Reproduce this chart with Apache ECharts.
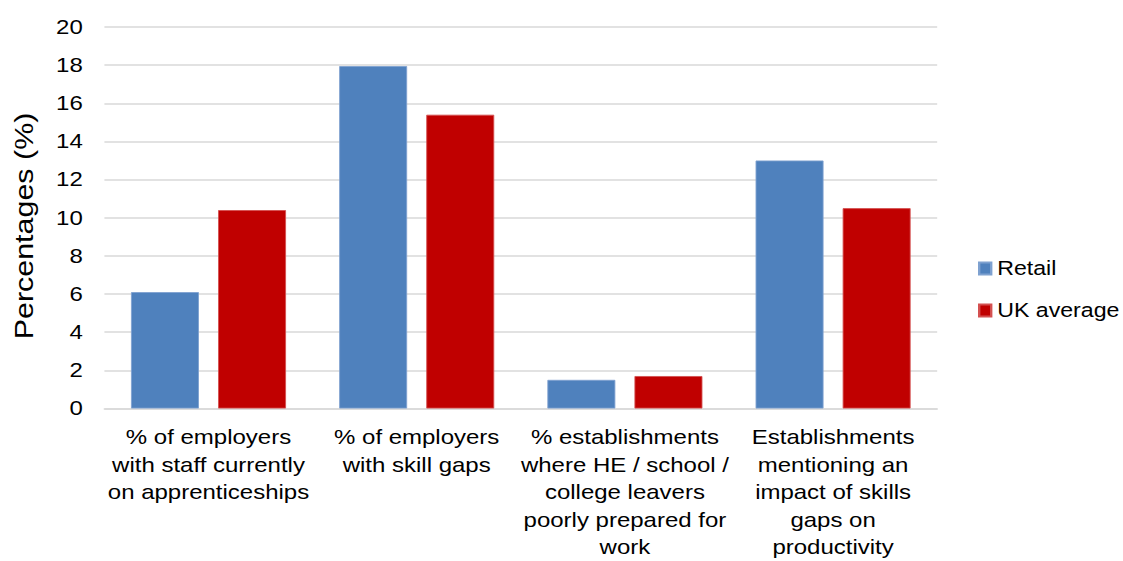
<!DOCTYPE html>
<html>
<head>
<meta charset="utf-8">
<script src="https://cdn.jsdelivr.net/npm/echarts@6/dist/echarts.min.js"></script>
<style>
  html, body { margin: 0; padding: 0; background: #fff; overflow: hidden; }
  /* the chart is laid out narrower and widened to fill the page */
  #chart { width: 936px; height: 561px; transform: scaleX(1.2); transform-origin: 0 0; }
</style>
</head>
<body>
<div id="chart"></div>
<script>
// Skills indicators: retail sector vs UK average
const categories = [
  '% of employers\nwith staff currently\non apprenticeships',
  '% of employers\nwith skill gaps',
  '% establishments\nwhere HE / school /\ncollege leavers\npoorly prepared for\nwork',
  'Establishments\nmentioning an\nimpact of skills\ngaps on\nproductivity'
];
const retail = [6.1, 17.95, 1.5, 13.0];
const ukAverage = [10.4, 15.4, 1.7, 10.5];
const yTicks = { min: 0, max: 20, interval: 2 };
const yTitle = 'Percentages (%)';

const font = 'Liberation Sans, Arial, sans-serif';
const chart = echarts.init(document.getElementById('chart'), null, { renderer: 'svg' });

chart.setOption({
  animation: false,
  textStyle: { fontFamily: font },
  grid: { left: 87, right: 155, top: 27, bottom: 150, containLabel: false },
  legend: {
    orient: 'vertical',
    left: 815,
    top: 259,
    padding: 0,
    itemWidth: 10,
    itemHeight: 12,
    itemGap: 23,
    icon: 'rect',
    textStyle: { fontFamily: font, fontSize: 19.3, color: '#000' },
    data: ['Retail', 'UK average']
  },
  xAxis: {
    type: 'category',
    data: categories,
    axisLine: { lineStyle: { color: '#d9d9d9', width: 1.5 } },
    axisTick: { show: false },
    axisLabel: {
      interval: 0,
      fontFamily: font,
      fontSize: 20,
      color: '#000',
      lineHeight: 27.5,
      margin: 15
    }
  },
  yAxis: {
    type: 'value',
    min: yTicks.min,
    max: yTicks.max,
    interval: yTicks.interval,
    axisLine: { show: false },
    axisTick: { show: false },
    axisLabel: { fontFamily: font, fontSize: 20, color: '#000', margin: 18 },
    splitLine: { lineStyle: { color: '#d9d9d9', width: 1.5 } }
  },
  graphic: [{
    type: 'text',
    x: 20,
    y: 226,
    rotation: Math.PI / 2,
    scaleX: 1.45,
    style: {
      text: yTitle,
      fontFamily: font,
      fontSize: 21,
      fill: '#000',
      align: 'center',
      verticalAlign: 'middle'
    }
  }],
  series: [
    {
      name: 'Retail',
      type: 'bar',
      data: retail,
      barWidth: 56.7,
      barGap: '28%',
      itemStyle: { color: '#4f81bd', borderColor: '#7ea1d0', borderWidth: 0.8 }
    },
    {
      name: 'UK average',
      type: 'bar',
      data: ukAverage,
      barWidth: 56.7,
      itemStyle: { color: '#c00000', borderColor: '#d45050', borderWidth: 0.8 }
    }
  ]
});
</script>
</body>
</html>
